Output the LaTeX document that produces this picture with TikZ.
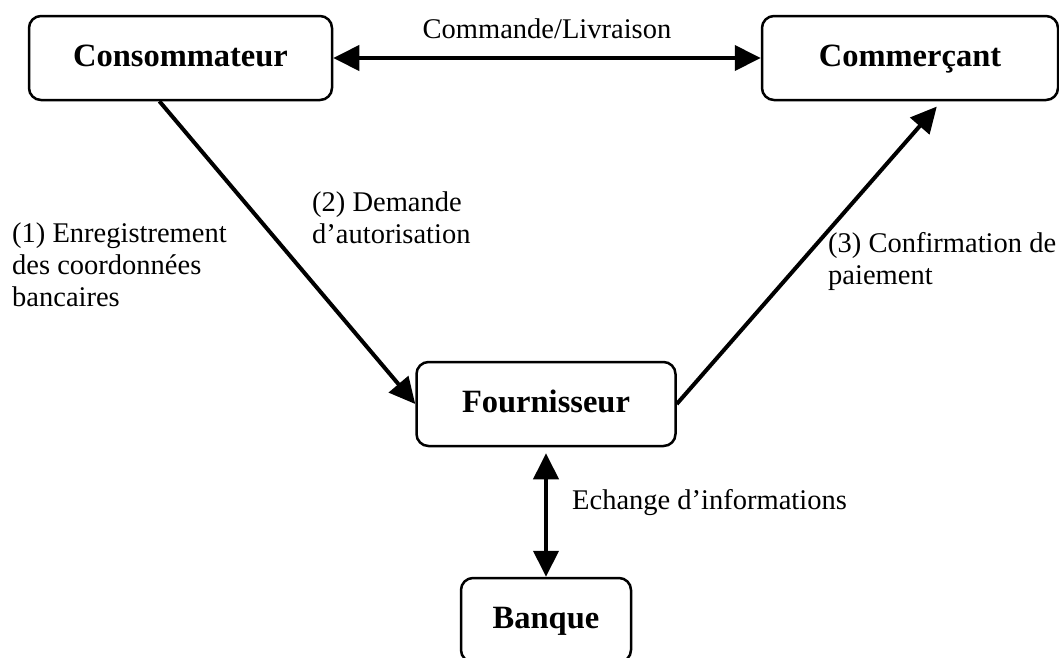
\documentclass[tikz,border=0pt]{standalone}
\usepackage{fontspec}
\setmainfont{Liberation Serif}
\usetikzlibrary{arrows.meta}

\begin{document}
\begin{tikzpicture}[x=1pt,y=-1pt,
    acteur/.style={draw,line width=2.5pt,rounded corners=12pt,minimum height=84pt,
        text height=23pt,text depth=7pt,font=\fontsize{32.5}{36}\selectfont\bfseries},
    etiquette/.style={font=\fontsize{28.5}{32}\selectfont,align=left,inner sep=0pt},
    fleche/.style={line width=4pt,-{Triangle[length=26pt,width=25pt]}},
    fleches/.style={line width=4pt,{Triangle[length=26pt,width=25pt]}-{Triangle[length=26pt,width=25pt]}}]
    \clip (0,0) rectangle (1059,657);

    \node[acteur,minimum width=303pt] (conso) at (180.5,58) {Consommateur};
    \node[acteur,minimum width=296pt] (comm) at (910,58) {Commerçant};
    \node[acteur,minimum width=259pt] (fourn) at (546,404) {Fournisseur};
    \node[acteur,minimum width=170pt] (banque) at (546,620) {Banque};

    \draw[fleches] (conso) -- (comm);
    \draw[fleche] (conso.244) -- (fourn.west);
    \draw[fleche,shorten >=7pt] (fourn.east) -- (comm.306);
    \draw[fleches,shorten <=6pt] (fourn.south) -- (banque.north);

    \node[etiquette] (commande) at (547,29) {Commande/Livraison};
    \node[etiquette,anchor=west] (enreg) at (12,265) {(1) Enregistrement\\des coordonnées\\bancaires};
    \node[etiquette,anchor=west] (demande) at (312,218) {(2) Demande\\d’autorisation};
    \node[etiquette,anchor=west] (confirm) at (828,261) {(3) Confirmation de\\paiement};
    \node[etiquette,anchor=west] (echange) at (572,503) {Echange d’informations};
\end{tikzpicture}
\end{document}
